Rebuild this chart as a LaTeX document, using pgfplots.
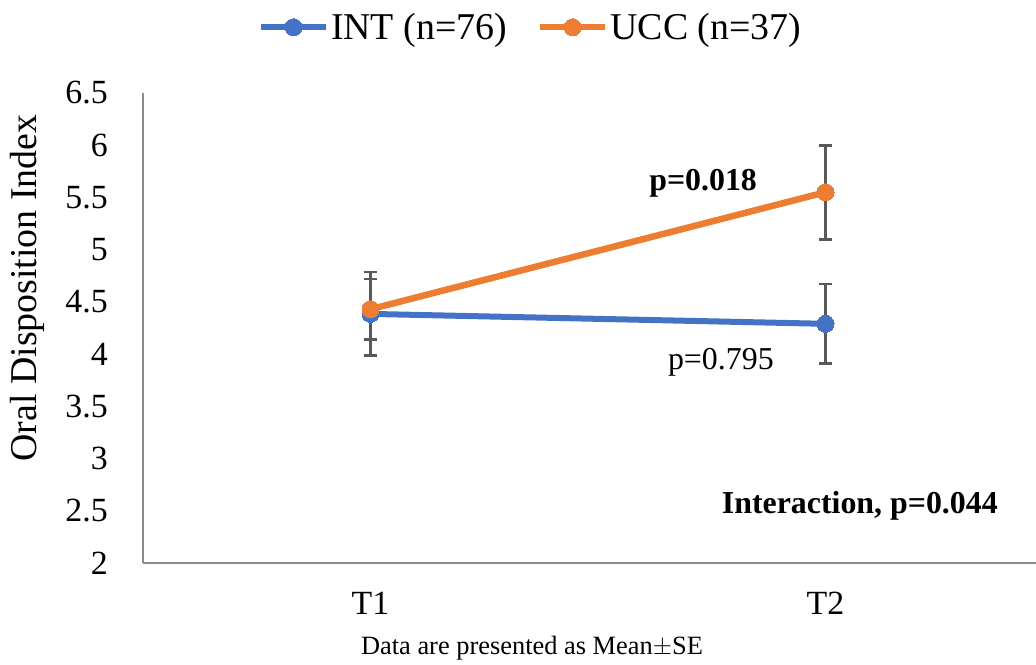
\documentclass[border=0pt]{standalone}
\usepackage{fontspec}
\setmainfont{Liberation Serif}
\usepackage{pgfplots}
\pgfplotsset{compat=1.18}
\definecolor{intblue}{HTML}{4472C4}
\definecolor{uccorange}{HTML}{ED7D31}
\definecolor{errgray}{HTML}{595959}
\definecolor{axgray}{HTML}{8C8C8C}
\begin{document}
\begin{tikzpicture}
\useasboundingbox (-143bp,-102bp) rectangle (893bp,563bp);
\begin{axis}[
  scale only axis,
  width=893bp, height=470bp,
  xmin=0, xmax=1.9626,
  ymin=2, ymax=6.5,
  axis x line*=bottom,
  axis y line*=left,
  axis line style={axgray, line width=1.6bp, -},
  xtick={0.5,1.5},
  xticklabels={T1,T2},
  ytick={2,2.5,3,3.5,4,4.5,5,5.5,6,6.5},
  yticklabels={2,2.5,3,3.5,4,4.5,5,5.5,6,6.5},
  major tick length=0pt,
  yticklabel style={font=\fontsize{34}{38}\selectfont\rmfamily, inner sep=0pt, anchor=east, xshift=-35bp},
  xticklabel style={font=\fontsize{34}{38}\selectfont\rmfamily, inner sep=0pt, anchor=north, yshift=-29bp},
  ylabel={Oral Disposition Index},
  ylabel style={font=\fontsize{38}{42}\selectfont, at={(axis description cs:-0.13,0.585)}, anchor=center},
  legend columns=2,
  legend style={draw=none, fill=none, font=\fontsize{38}{42}\selectfont,
    at={(rel axis cs:0.434,1.14)}, anchor=center,
    /tikz/every even column/.append style={column sep=28bp},
    inner sep=0pt, cells={anchor=west}},
  legend image code/.code={
    \draw[#1, mark=none] (0bp,0bp) -- (65bp,0bp);
    \draw[#1, only marks] plot coordinates {(32.5bp,0bp)};
  },
  clip=false,
]
\addplot[intblue, line width=6bp, mark=*, mark size=8.5bp, mark options={fill=intblue, draw=intblue, line width=0pt},
  error bars/.cd, y dir=both, y explicit,
  error bar style={errgray, line width=2.6bp},
  error mark options={errgray, line width=2.6bp, mark size=6.5bp, rotate=90}]
  coordinates {(0.5,4.385) +- (0,0.40) (1.5,4.29) +- (0,0.38)};
\addlegendentry{INT (n=76)}
\addplot[uccorange, line width=6.5bp, mark=*, mark size=8.5bp, mark options={fill=uccorange, draw=uccorange, line width=0pt},
  error bars/.cd, y dir=both, y explicit,
  error bar style={errgray, line width=2.6bp},
  error mark options={errgray, line width=2.6bp, mark size=6.5bp, rotate=90}]
  coordinates {(0.5,4.43) +- (0,0.29) (1.5,5.55) +- (0,0.45)};
\addlegendentry{UCC (n=37)}
\node[font=\fontsize{32}{36}\selectfont\bfseries] at (axis cs:1.231,5.64) {p=0.018};
\node[font=\fontsize{32}{36}\selectfont] at (axis cs:1.27,3.925) {p=0.795};
\node[font=\fontsize{32}{36}\selectfont\bfseries, anchor=east, inner sep=0pt] at (axis cs:1.879,2.546) {Interaction, p=0.044};
\node[font=\fontsize{26.5}{30}\selectfont] at (rel axis cs:0.4356,-0.181) {Data are presented as Mean$\pm$SE};
\end{axis}
\end{tikzpicture}
\end{document}
